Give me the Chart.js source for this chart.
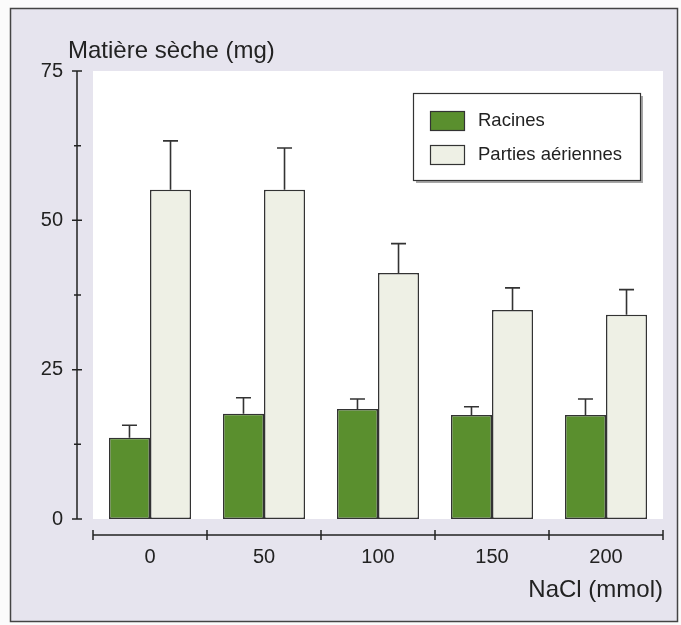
<!DOCTYPE html>
<html>
<head>
<meta charset="utf-8">
<script src="https://cdn.jsdelivr.net/npm/chart.js@4"></script>
<style>
  html, body { margin: 0; padding: 0; background: #fff; }
  #wrap { width: 681px; height: 625px; }
</style>
</head>
<body>
<div id="wrap"><canvas id="js-chart" width="681" height="625"></canvas></div>
<script>
// data
var categories = ['0', '50', '100', '150', '200'];
var racines = [13.6, 17.6, 18.4, 17.4, 17.4];
var racinesErr = [15.7, 20.3, 20.1, 18.8, 20.1];
var aeriennes = [55.1, 55.1, 41.2, 35.0, 34.2];
var aeriennesErr = [63.3, 62.1, 46.1, 38.7, 38.4];
var yTicks = [0, 25, 50, 75];

var FONT = '"Liberation Sans", Arial, sans-serif';
var GREEN = '#5a8f2e';
var LIGHT = '#eef0e5';
var LINE = '#333333';

// frame, lavender background and white plotting area
var backdrop = {
  id: 'backdrop',
  beforeDraw: function(chart) {
    var c = chart.ctx, a = chart.chartArea;
    c.save();
    c.fillStyle = '#fbfbfb';
    c.fillRect(0, 0, chart.width, chart.height);
    c.fillStyle = '#e6e4ee';
    c.fillRect(10, 8, 668, 614);
    c.strokeStyle = '#444';
    c.lineWidth = 1.5;
    c.strokeRect(10.5, 8.5, 667, 613);
    c.fillStyle = '#ffffff';
    c.fillRect(a.left, a.top, a.right - a.left, a.bottom - a.top);
    c.restore();
  }
};

// axes lines drawn detached from the plot, as in the figure
var axes = {
  id: 'axes',
  afterDraw: function(chart) {
    var c = chart.ctx, a = chart.chartArea;
    var y = chart.scales.y;
    c.save();
    c.strokeStyle = '#222';
    c.lineWidth = 1.5;
    var ax = a.left - 16;
    c.beginPath();
    c.moveTo(ax, y.getPixelForValue(75));
    c.lineTo(ax, y.getPixelForValue(0));
    yTicks.forEach(function(v) {
      var p = y.getPixelForValue(v);
      c.moveTo(ax - 5, p); c.lineTo(ax + 5, p);
    });
    [12.5, 37.5, 62.5].forEach(function(v) {
      var p = y.getPixelForValue(v);
      c.moveTo(ax - 3, p); c.lineTo(ax + 4, p);
    });
    var ay = a.bottom + 16;
    c.moveTo(a.left, ay);
    c.lineTo(a.right, ay);
    var step = (a.right - a.left) / categories.length;
    for (var i = 0; i <= categories.length; i++) {
      var px = a.left + i * step;
      c.moveTo(px, ay - 5); c.lineTo(px, ay + 5);
    }
    c.stroke();

    // axis titles
    c.fillStyle = '#222';
    c.textBaseline = 'alphabetic';
    c.font = '24px ' + FONT;
    c.textAlign = 'left';
    c.fillText('Matière sèche (mg)', 68, 58);
    c.textAlign = 'right';
    c.fillText('NaCl (mmol)', a.right, 597);

    // legend box
    var lx = 413, ly = 93, lw = 227, lh = 87;
    c.fillStyle = 'rgba(0,0,0,0.35)';
    c.fillRect(lx + 3, ly + 3, lw, lh);
    c.fillStyle = '#fff';
    c.fillRect(lx, ly, lw, lh);
    c.strokeStyle = '#333';
    c.lineWidth = 1.2;
    c.strokeRect(lx + 0.5, ly + 0.5, lw, lh);
    c.font = '18.5px ' + FONT;
    c.textAlign = 'left';
    c.textBaseline = 'middle';
    chart.data.datasets.forEach(function(ds, i) {
      var sy = 111 + i * 34;
      c.fillStyle = ds.backgroundColor;
      c.fillRect(430, sy, 34, 19);
      c.strokeStyle = LINE;
      c.strokeRect(430.5, sy + 0.5, 34, 19);
      c.fillStyle = '#222';
      c.fillText(ds.label, 478, sy + 10);
    });
    c.restore();
  }
};

// upper error bars
var errorBars = {
  id: 'errorBars',
  afterDatasetsDraw: function(chart) {
    var c = chart.ctx, y = chart.scales.y;
    var errs = [racinesErr, aeriennesErr];
    c.save();
    c.strokeStyle = LINE;
    c.lineWidth = 1.6;
    chart.data.datasets.forEach(function(ds, d) {
      chart.getDatasetMeta(d).data.forEach(function(bar, i) {
        var top = y.getPixelForValue(errs[d][i]);
        c.beginPath();
        c.moveTo(bar.x, bar.y);
        c.lineTo(bar.x, top);
        c.moveTo(bar.x - 7.5, top);
        c.lineTo(bar.x + 7.5, top);
        c.stroke();
      });
    });
    c.restore();
  }
};

var ctx = document.getElementById('js-chart');
var chart = new Chart(ctx, {
  type: 'bar',
  data: {
    labels: categories,
    datasets: [{
      label: 'Racines',
      data: racines,
      backgroundColor: GREEN,
      borderColor: LINE,
      borderWidth: 1.5,
      borderSkipped: false
    }, {
      label: 'Parties aériennes',
      data: aeriennes,
      backgroundColor: LIGHT,
      borderColor: LINE,
      borderWidth: 1.5,
      borderSkipped: false
    }]
  },
  options: {
    responsive: false,
    animation: false,
    layout: { padding: { top: 71, right: 18, left: 0, bottom: 0 } },
    datasets: { bar: { barPercentage: 1, categoryPercentage: 0.72 } },
    plugins: {
      legend: { display: false },
      tooltip: { enabled: false }
    },
    scales: {
      x: {
        grid: { display: false, drawTicks: false },
        border: { display: false },
        ticks: { color: '#222', padding: 26, font: { family: FONT, size: 20 } },
        afterFit: function(s) { s.height = 106; }
      },
      y: {
        min: 0,
        max: 75,
        afterBuildTicks: function(s) { s.ticks = yTicks.map(function(v) { return { value: v }; }); },
        grid: { display: false, drawTicks: false },
        border: { display: false },
        ticks: { color: '#222', padding: 30, font: { family: FONT, size: 20 } },
        afterFit: function(s) { s.width = 93; }
      }
    }
  },
  plugins: [backdrop, errorBars, axes]
});
</script>
</body>
</html>
